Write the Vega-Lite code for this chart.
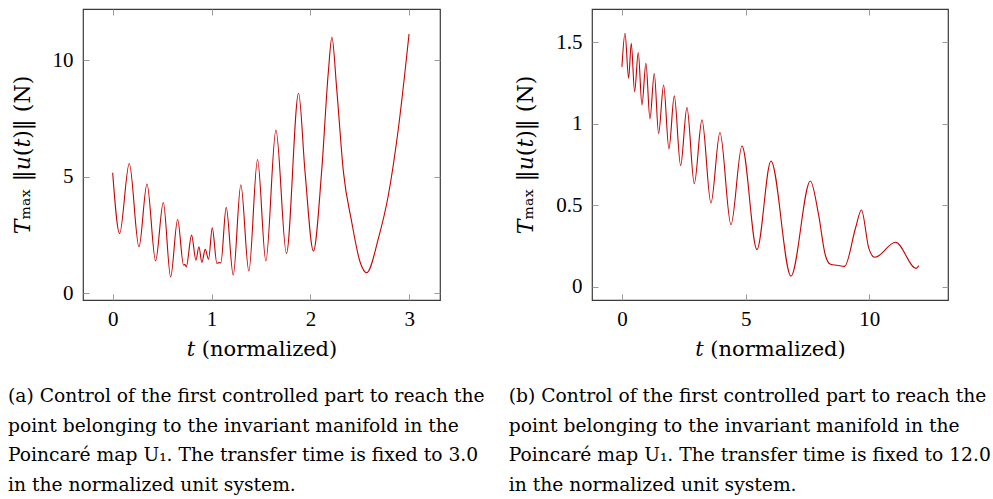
{
  "$schema": "https://vega.github.io/schema/vega-lite/v6.json",
  "padding": {"left": 7, "top": 7, "right": 2, "bottom": 2},
  "background": "white",
  "datasets": {
    "a": [
      {"t": 0, "v": 5.17}, {"t": 0.07, "v": 2.57}, {"t": 0.168, "v": 5.57}, {"t": 0.266, "v": 2.0},
      {"t": 0.347, "v": 4.69}, {"t": 0.434, "v": 1.4}, {"t": 0.512, "v": 3.9}, {"t": 0.586, "v": 0.71},
      {"t": 0.657, "v": 3.17}, {"t": 0.717, "v": 1.21}, {"t": 0.73, "v": 1.25}, {"t": 0.744, "v": 1.14},
      {"t": 0.798, "v": 2.5}, {"t": 0.842, "v": 1.43}, {"t": 0.872, "v": 2.0}, {"t": 0.902, "v": 1.33},
      {"t": 0.936, "v": 1.89}, {"t": 0.97, "v": 1.47}, {"t": 1.007, "v": 2.81}, {"t": 1.054, "v": 1.29},
      {"t": 1.075, "v": 1.32}, {"t": 1.094, "v": 1.31}, {"t": 1.148, "v": 3.69}, {"t": 1.219, "v": 0.79},
      {"t": 1.296, "v": 4.66}, {"t": 1.377, "v": 0.96}, {"t": 1.465, "v": 5.74}, {"t": 1.549, "v": 1.39},
      {"t": 1.651, "v": 7.0}, {"t": 1.757, "v": 1.71}, {"t": 1.88, "v": 8.58}, {"t": 1.945, "v": 5.22},
      {"t": 2.03, "v": 1.82}, {"t": 2.113, "v": 5.22}, {"t": 2.181, "v": 9.5}, {"t": 2.217, "v": 10.98},
      {"t": 2.265, "v": 8.79}, {"t": 2.333, "v": 5.22}, {"t": 2.417, "v": 3.07}, {"t": 2.501, "v": 1.36},
      {"t": 2.569, "v": 0.89}, {"t": 2.687, "v": 2.36}, {"t": 2.788, "v": 4.22}, {"t": 2.889, "v": 7.07},
      {"t": 2.997, "v": 11.12}
    ],
    "b": [
      {"t": 0, "v": 1.35}, {"t": 0.125, "v": 1.556}, {"t": 0.27, "v": 1.28}, {"t": 0.377, "v": 1.495},
      {"t": 0.512, "v": 1.198}, {"t": 0.66, "v": 1.438}, {"t": 0.809, "v": 1.117}, {"t": 0.97, "v": 1.372},
      {"t": 1.132, "v": 1.031}, {"t": 1.307, "v": 1.309}, {"t": 1.482, "v": 0.941}, {"t": 1.685, "v": 1.239},
      {"t": 1.9, "v": 0.847}, {"t": 2.116, "v": 1.172}, {"t": 2.372, "v": 0.744}, {"t": 2.628, "v": 1.1},
      {"t": 2.925, "v": 0.634}, {"t": 3.235, "v": 1.025}, {"t": 3.598, "v": 0.515}, {"t": 3.962, "v": 0.947},
      {"t": 4.407, "v": 0.382}, {"t": 4.852, "v": 0.865}, {"t": 5.458, "v": 0.229}, {"t": 6.024, "v": 0.773},
      {"t": 6.833, "v": 0.067}, {"t": 7.615, "v": 0.65}, {"t": 7.95, "v": 0.442}, {"t": 8.22, "v": 0.196},
      {"t": 8.43, "v": 0.139}, {"t": 8.7, "v": 0.133}, {"t": 9.0, "v": 0.126}, {"t": 9.44, "v": 0.36},
      {"t": 9.68, "v": 0.472}, {"t": 9.98, "v": 0.237}, {"t": 10.22, "v": 0.182}, {"t": 11.06, "v": 0.274},
      {"t": 11.89, "v": 0.114}, {"t": 12.0, "v": 0.131}
    ]
  },
  "hconcat": [
    {
      "width": 357,
      "height": 291,
      "data": {"name": "a"},
      "title": {
        "text": ["(a) Control of the first controlled part to reach the", "point belonging to the invariant manifold in the", "Poincaré map U₁. The transfer time is fixed to 3.0", "in the normalized unit system."],
        "orient": "bottom", "anchor": "start", "frame": "bounds", "offset": 28, "dx": -3
      },
      "layer": [
        {
          "mark": {"type": "line", "color": "#c80000", "strokeWidth": 1.1, "interpolate": "monotone"},
          "encoding": {
            "x": {"field": "t", "type": "quantitative", "scale": {"domain": [-0.3, 3.31], "nice": false, "zero": false},
                  "axis": {"orient": "bottom", "values": [0, 1, 2, 3], "title": "𝑡 (normalized)"}},
            "y": {"field": "v", "type": "quantitative", "scale": {"domain": [-0.28, 12.19], "nice": false, "zero": false},
                  "axis": {"orient": "left", "values": [0, 5, 10], "title": "𝑇ₘₐₓ ‖𝑢(𝑡)‖ (N)"}}
          }
        },
        {
          "mark": {"type": "line", "opacity": 0},
          "encoding": {
            "x": {"field": "t", "type": "quantitative", "axis": {"orient": "top", "values": [0, 1, 2, 3], "labels": false, "title": null}},
            "y": {"field": "v", "type": "quantitative", "axis": {"orient": "right", "values": [0, 5, 10], "labels": false, "title": null}}
          }
        }
      ],
      "resolve": {"axis": {"x": "independent", "y": "independent"}}
    },
    {
      "width": 356,
      "height": 291,
      "data": {"name": "b"},
      "title": {
        "text": ["(b) Control of the first controlled part to reach the", "point belonging to the invariant manifold in the", "Poincaré map U₁. The transfer time is fixed to 12.0", "in the normalized unit system."],
        "orient": "bottom", "anchor": "start", "frame": "bounds", "offset": 28, "dx": -6
      },
      "layer": [
        {
          "mark": {"type": "line", "color": "#c80000", "strokeWidth": 1.1, "interpolate": "monotone"},
          "encoding": {
            "x": {"field": "t", "type": "quantitative", "scale": {"domain": [-1.21, 13.18], "nice": false, "zero": false},
                  "axis": {"orient": "bottom", "values": [0, 5, 10], "title": "𝑡 (normalized)"}},
            "y": {"field": "v", "type": "quantitative", "scale": {"domain": [-0.08, 1.705], "nice": false, "zero": false},
                  "axis": {"orient": "left", "values": [0, 0.5, 1, 1.5], "format": "~g", "title": "𝑇ₘₐₓ ‖𝑢(𝑡)‖ (N)"}}
          }
        },
        {
          "mark": {"type": "line", "opacity": 0},
          "encoding": {
            "x": {"field": "t", "type": "quantitative", "axis": {"orient": "top", "values": [0, 5, 10], "labels": false, "title": null}},
            "y": {"field": "v", "type": "quantitative", "axis": {"orient": "right", "values": [0, 0.5, 1, 1.5], "labels": false, "title": null}}
          }
        }
      ],
      "resolve": {"axis": {"x": "independent", "y": "independent"}}
    }
  ],
  "spacing": 152,
  "bounds": "flush",
  "config": {
    "view": {"stroke": "#3a3a3a", "strokeWidth": 1.2},
    "axis": {
      "domain": false, "grid": false,
      "tickColor": "#9a9a9a", "tickSize": -6, "tickWidth": 1,
      "labelFont": "Liberation Serif", "labelFontSize": 21, "labelColor": "black", "labelPadding": 16,
      "titleFont": "DejaVu Serif", "titleFontSize": 22, "titleFontWeight": "normal", "titleColor": "black", "titlePadding": 18
    },
    "axisX": {"labelPadding": 14, "titlePadding": 9, "titleFontSize": 21},
    "title": {"font": "DejaVu Serif", "fontSize": 18.7, "fontWeight": "normal", "color": "black", "lineHeight": 29.5, "baseline": "top"}
  }
}
